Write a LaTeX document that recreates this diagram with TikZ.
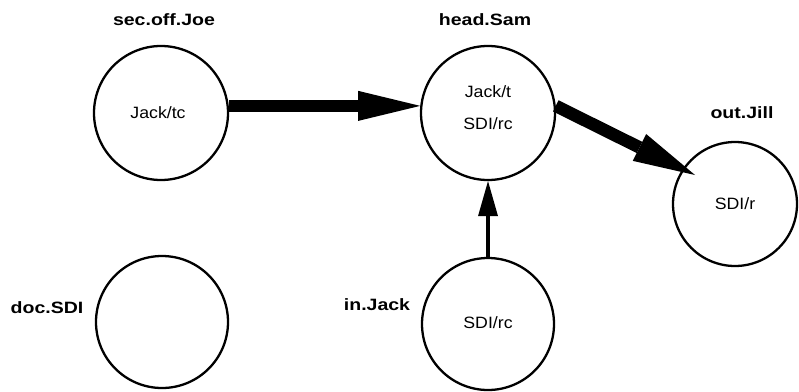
\documentclass[tikz,border=0pt]{standalone}
\usepackage{fontspec}
\setmainfont{Liberation Sans}
\newfontfamily\tokenfont[FakeStretch=1.08]{Liberation Sans}
\newfontfamily\tagfont[FakeStretch=1.19]{Liberation Sans}
\usetikzlibrary{arrows.meta,calc}
\begin{document}
\begin{tikzpicture}[x=1pt,y=-1pt,
  place/.style={circle,draw,line width=2.3pt,minimum size=#1,inner sep=0pt},
  place/.default=134pt,
  content/.style={font=\tokenfont\fontsize{16.4}{20}\selectfont,inner sep=0pt},
  tag/.style={font=\tagfont\fontsize{16.4}{20}\selectfont\bfseries,inner sep=0pt},
  fatflow/.style={line width=12.5pt,-{Triangle[length=62pt,width=30pt,line width=0pt]}},
  thinflow/.style={line width=4pt,-{Triangle[length=35pt,width=20pt,line width=0pt]}}]
  \useasboundingbox (0,0) rectangle (799,391);

  % places
  \node[place] (Joe) at (161,113) {};
  \node[place] (Sam) at (488,113) {};
  \node[place=124pt] (Jill) at (735,204) {};
  \node[place=132pt] (Doc) at (162,322) {};
  \node[place=132pt] (In) at (488,324) {};

  % tokens held by each place
  \node[content] (tJoe) at (158,113) {Jack/tc};
  \node[content] (tSam1) at (488,92) {Jack/t};
  \node[content] (tSam2) at (488,124) {SDI/rc};
  \node[content] (tJill) at (735,204) {SDI/r};
  \node[content] (tIn) at (488,323) {SDI/rc};

  % place names
  \node[tag] (lJoe) at (164,20) {sec.off.Joe};
  \node[tag] (lSam) at (485,20) {head.Sam};
  \node[tag] (lJill) at (742,113) {out.Jill};
  \node[tag] (lDoc) at (47,308) {doc.SDI};
  \node[tag] (lIn) at (377,305) {in.Jack};

  % flows
  \draw[fatflow] (Joe.6) -- (Sam.174);
  \coordinate (jtip) at ($(Jill.center)+(-40,-29)$);
  \draw[fatflow] (Sam.6) -- (jtip);
  \draw[thinflow] (In.north) -- (Sam.south);
\end{tikzpicture}
\end{document}
